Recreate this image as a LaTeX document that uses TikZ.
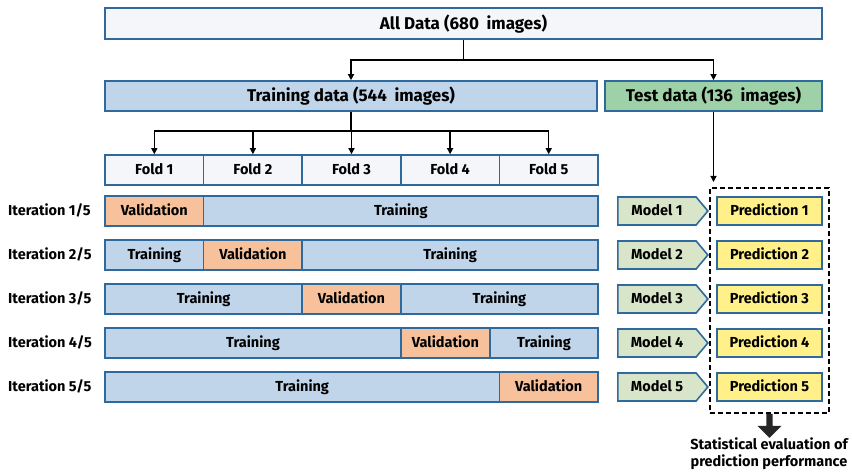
\documentclass[tikz,border=0pt]{standalone}
\usepackage{fontspec}
\setmainfont{Fira Sans}
\usetikzlibrary{arrows.meta,shapes.symbols,shapes.arrows}
\definecolor{bord}{HTML}{2E6A9E}
\definecolor{allfill}{HTML}{F4F6F9}
\definecolor{trfill}{HTML}{C0D4EA}
\definecolor{tefill}{HTML}{9FD1A8}
\definecolor{vafill}{HTML}{F7C29B}
\definecolor{mofill}{HTML}{D9E5C8}
\definecolor{prfill}{HTML}{FFF08A}
\tikzset{
  txt/.style={font=\fontsize{14.5}{17}\selectfont\bfseries,text height=10.4pt,text depth=0.6pt},
  ttl/.style={font=\fontsize{17}{20}\selectfont\bfseries,text height=12.2pt,text depth=0.6pt},
  box/.style={draw=bord,line width=1.6pt,rectangle,inner sep=0pt,minimum height=30pt,txt},
  trbox/.style={box,fill=trfill},
  vabox/.style={box,fill=vafill},
  foldbox/.style={box,fill=allfill,minimum width=98.6pt},
  modelbox/.style={draw=bord,line width=1.6pt,fill=mofill,signal,signal to=east,signal pointer angle=100,minimum width=90pt,minimum height=28pt,inner sep=0pt,txt},
  predbox/.style={draw=bord,line width=1.6pt,fill=prfill,rectangle,minimum width=105pt,minimum height=28pt,inner sep=0pt,txt},
  itlabel/.style={anchor=west,inner sep=0pt,txt},
  arr/.style={line width=1.3pt,-{Triangle[length=6pt,width=6pt]}},
  ln/.style={line width=1.3pt}
}
\begin{document}
\begin{tikzpicture}[x=1pt,y=-1pt]
\useasboundingbox (0,0) rectangle (852,473);
% top
\node[box,ttl,fill=allfill,minimum width=717pt,minimum height=31pt] (all) at (463.5,23.5) {All Data (680\hspace{0.45em}images)};
\node[trbox,ttl,minimum width=492pt] (train) at (351,96) {Training data (544\hspace{0.45em}images)};
\node[box,ttl,fill=tefill,minimum width=217pt] (test) at (713.5,96) {Test data (136\hspace{0.45em}images)};
\coordinate (j1) at (463.5,60);
\draw[ln] (all.south) -- (j1);
\draw[arr] (j1) -| (train.north);
\draw[arr] (j1) -| (test.north);
% folds
\foreach \i/\x in {1/154.3,2/252.9,3/351.5,4/450.1,5/548.7}{
  \node[foldbox] (f\i) at (\x,170) {Fold \i};
}
\coordinate (j2) at (351,131);
\draw[ln] (train.south) -- (j2);
\foreach \i in {1,...,5}{\draw[arr] (j2) -| (f\i.north);}
% iterations
\foreach \i/\y in {1/211,2/255,3/299,4/343,5/387}{
  \node[itlabel] (it\i) at (8,\y) {Iteration \i/5};
  \node[modelbox] (m\i) at (657,\y) {Model \i};
  \node[predbox] (p\i) at (769.5,\y) {Prediction \i};
}
% row 1
\node[vabox,minimum width=98.6pt] (r1a) at (154.3,211) {Validation};
\node[trbox,minimum width=394.4pt] (r1b) at (400.8,211) {Training};
% row 2
\node[trbox,minimum width=98.6pt] (r2a) at (154.3,255) {Training};
\node[vabox,minimum width=98.6pt] (r2b) at (252.9,255) {Validation};
\node[trbox,minimum width=295.8pt] (r2c) at (450.1,255) {Training};
% row 3
\node[trbox,minimum width=197.2pt] (r3a) at (203.6,299) {Training};
\node[vabox,minimum width=98.6pt] (r3b) at (351.5,299) {Validation};
\node[trbox,minimum width=197.2pt] (r3c) at (499.4,299) {Training};
% row 4
\node[trbox,minimum width=296pt] (r4a) at (253,343) {Training};
\node[vabox,minimum width=89pt] (r4b) at (445.5,343) {Validation};
\node[trbox,minimum width=108pt] (r4c) at (544,343) {Training};
% row 5
\node[trbox,minimum width=394.4pt] (r5a) at (302.2,387) {Training};
\node[vabox,minimum width=98.6pt] (r5b) at (548.7,387) {Validation};
% prediction group
\node[draw,dash pattern=on 5pt off 3pt,line width=1.5pt,minimum width=119pt,minimum height=225pt,inner sep=0pt] (pgroup) at (769.5,300.5) {};
\coordinate (tend) at (713.5,182);
\draw[arr] (test.south) -- (tend);
\node[single arrow,fill=black!85,draw=none,shape border rotate=270,minimum width=24pt,single arrow head extend=6pt,minimum height=24pt,inner sep=2pt,anchor=tail] (fat) at (pgroup.south) {};
\node[align=center,inner sep=0pt,font=\fontsize{14.5}{17}\selectfont\bfseries] (stat) at (769,454) {Statistical evaluation of\\prediction performance};
\end{tikzpicture}
\end{document}
